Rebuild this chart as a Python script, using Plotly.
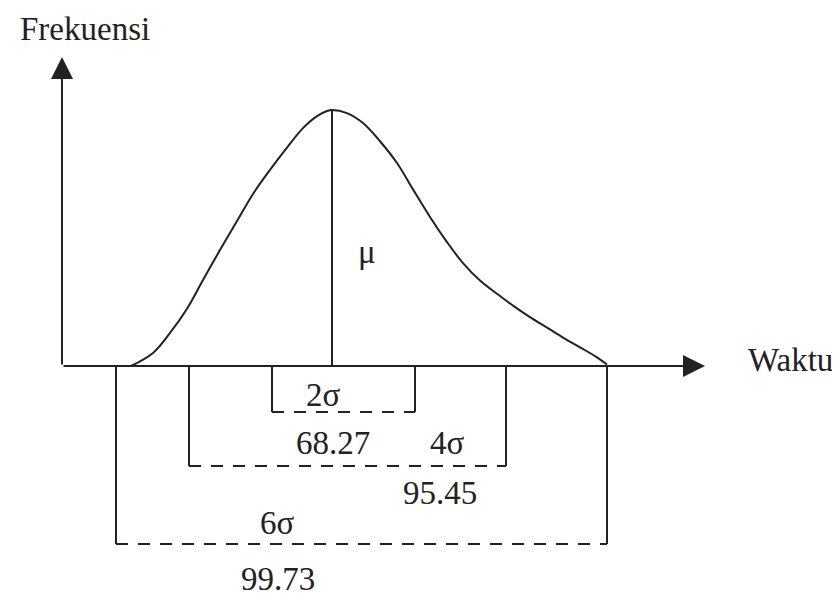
import plotly.graph_objects as go

# Curve (Waktu units, Frekuensi units with peak = 100)
curve_x = [13.8, 18.2, 21.6, 25.0, 28.2, 31.6, 35.0, 38.2, 41.6, 45.0, 48.2, 51.0, 53.0, 54.0,
           57.0, 60.2, 63.6, 67.0, 70.2, 73.6, 77.0, 80.2, 83.6, 87.0, 90.2, 93.6, 97.0,
           100.2, 103.6, 107.0, 109.0]
curve_y = [0.0, 5.1, 12.9, 22.4, 33.6, 45.3, 56.6, 67.2, 76.6, 85.3, 92.9, 97.6, 99.6, 100.0,
           98.8, 94.9, 87.8, 79.3, 69.0, 58.2, 48.4, 40.2, 33.4, 28.2, 23.6, 19.1, 15.0,
           11.1, 7.3, 3.4, 0.6]

mean_x = 54.0
peak_y = 100.0

# Brackets
bracket_names = ["2σ", "4σ", "6σ"]
bracket_left = [42.0, 25.4, 10.8]
bracket_right = [70.6, 88.8, 109.0]
bracket_bottom = [-18.0, -39.1, -69.5]
sigma_label_x = [52.2, 77.0, 43.0]
sigma_label_y = [-11.3, -30.1, -61.3]
pct_labels = ["68.27", "95.45", "99.73"]
pct_label_x = [54.2, 75.6, 43.2]
pct_label_y = [-30.1, -49.6, -83.2]

# Axes extent
x_axis_end = 128.6
y_axis_end = 120.7

INK = "#222222"
FONT = "Liberation Serif"
FS = 33

fig = go.Figure()

fig.add_trace(go.Scatter(x=curve_x, y=curve_y, mode="lines",
                         line=dict(color=INK, width=2, shape="spline", smoothing=1.0),
                         hoverinfo="skip", showlegend=False))
fig.add_trace(go.Scatter(x=[mean_x, mean_x], y=[0, peak_y], mode="lines",
                         line=dict(color=INK, width=2), hoverinfo="skip", showlegend=False))

for l, r, b in zip(bracket_left, bracket_right, bracket_bottom):
    fig.add_trace(go.Scatter(x=[l, l], y=[0, b], mode="lines",
                             line=dict(color=INK, width=2), hoverinfo="skip", showlegend=False))
    fig.add_trace(go.Scatter(x=[r, r], y=[0, b], mode="lines",
                             line=dict(color=INK, width=2), hoverinfo="skip", showlegend=False))
    fig.add_trace(go.Scatter(x=[l, r], y=[b, b], mode="lines",
                             line=dict(color=INK, width=2, dash="12px,10px"),
                             hoverinfo="skip", showlegend=False))

annotations = []
annotations.append(dict(x=x_axis_end, y=0, ax=0, ay=0, xref="x", yref="y", axref="x", ayref="y",
                        showarrow=True, arrowhead=2, arrowsize=2.2, arrowwidth=2,
                        arrowcolor=INK, text="", standoff=0))
annotations.append(dict(x=0, y=y_axis_end, ax=0, ay=0, xref="x", yref="y", axref="x", ayref="y",
                        showarrow=True, arrowhead=2, arrowsize=2.2, arrowwidth=2,
                        arrowcolor=INK, text="", standoff=0))

def txt(x, y, s):
    return dict(x=x, y=y, xref="x", yref="y", text=s, showarrow=False,
                font=dict(family=FONT, size=FS, color=INK), xanchor="center", yanchor="middle")

annotations.append(txt(4.6, 131.7, "Frekuensi"))
annotations.append(txt(145.6, 2.3, "Waktu"))
annotations.append(txt(61.0, 44.5, "μ"))
for s, x, y in zip(bracket_names, sigma_label_x, sigma_label_y):
    annotations.append(txt(x, y, s))
for s, x, y in zip(pct_labels, pct_label_x, pct_label_y):
    annotations.append(txt(x, y, s))

# page body has an 8px margin: the figure is 832x588 and its ranges cover reference pixels 8..840 / 8..596
fig.update_layout(
    width=832, height=588,
    margin=dict(l=0, r=0, t=0, b=0),
    paper_bgcolor="white", plot_bgcolor="white",
    xaxis=dict(range=[-10.8, 155.6], visible=False, fixedrange=True),
    yaxis=dict(range=[-89.84, 139.84], visible=False, fixedrange=True),
    annotations=annotations,
    showlegend=False,
)

fig.write_html("out.html")
